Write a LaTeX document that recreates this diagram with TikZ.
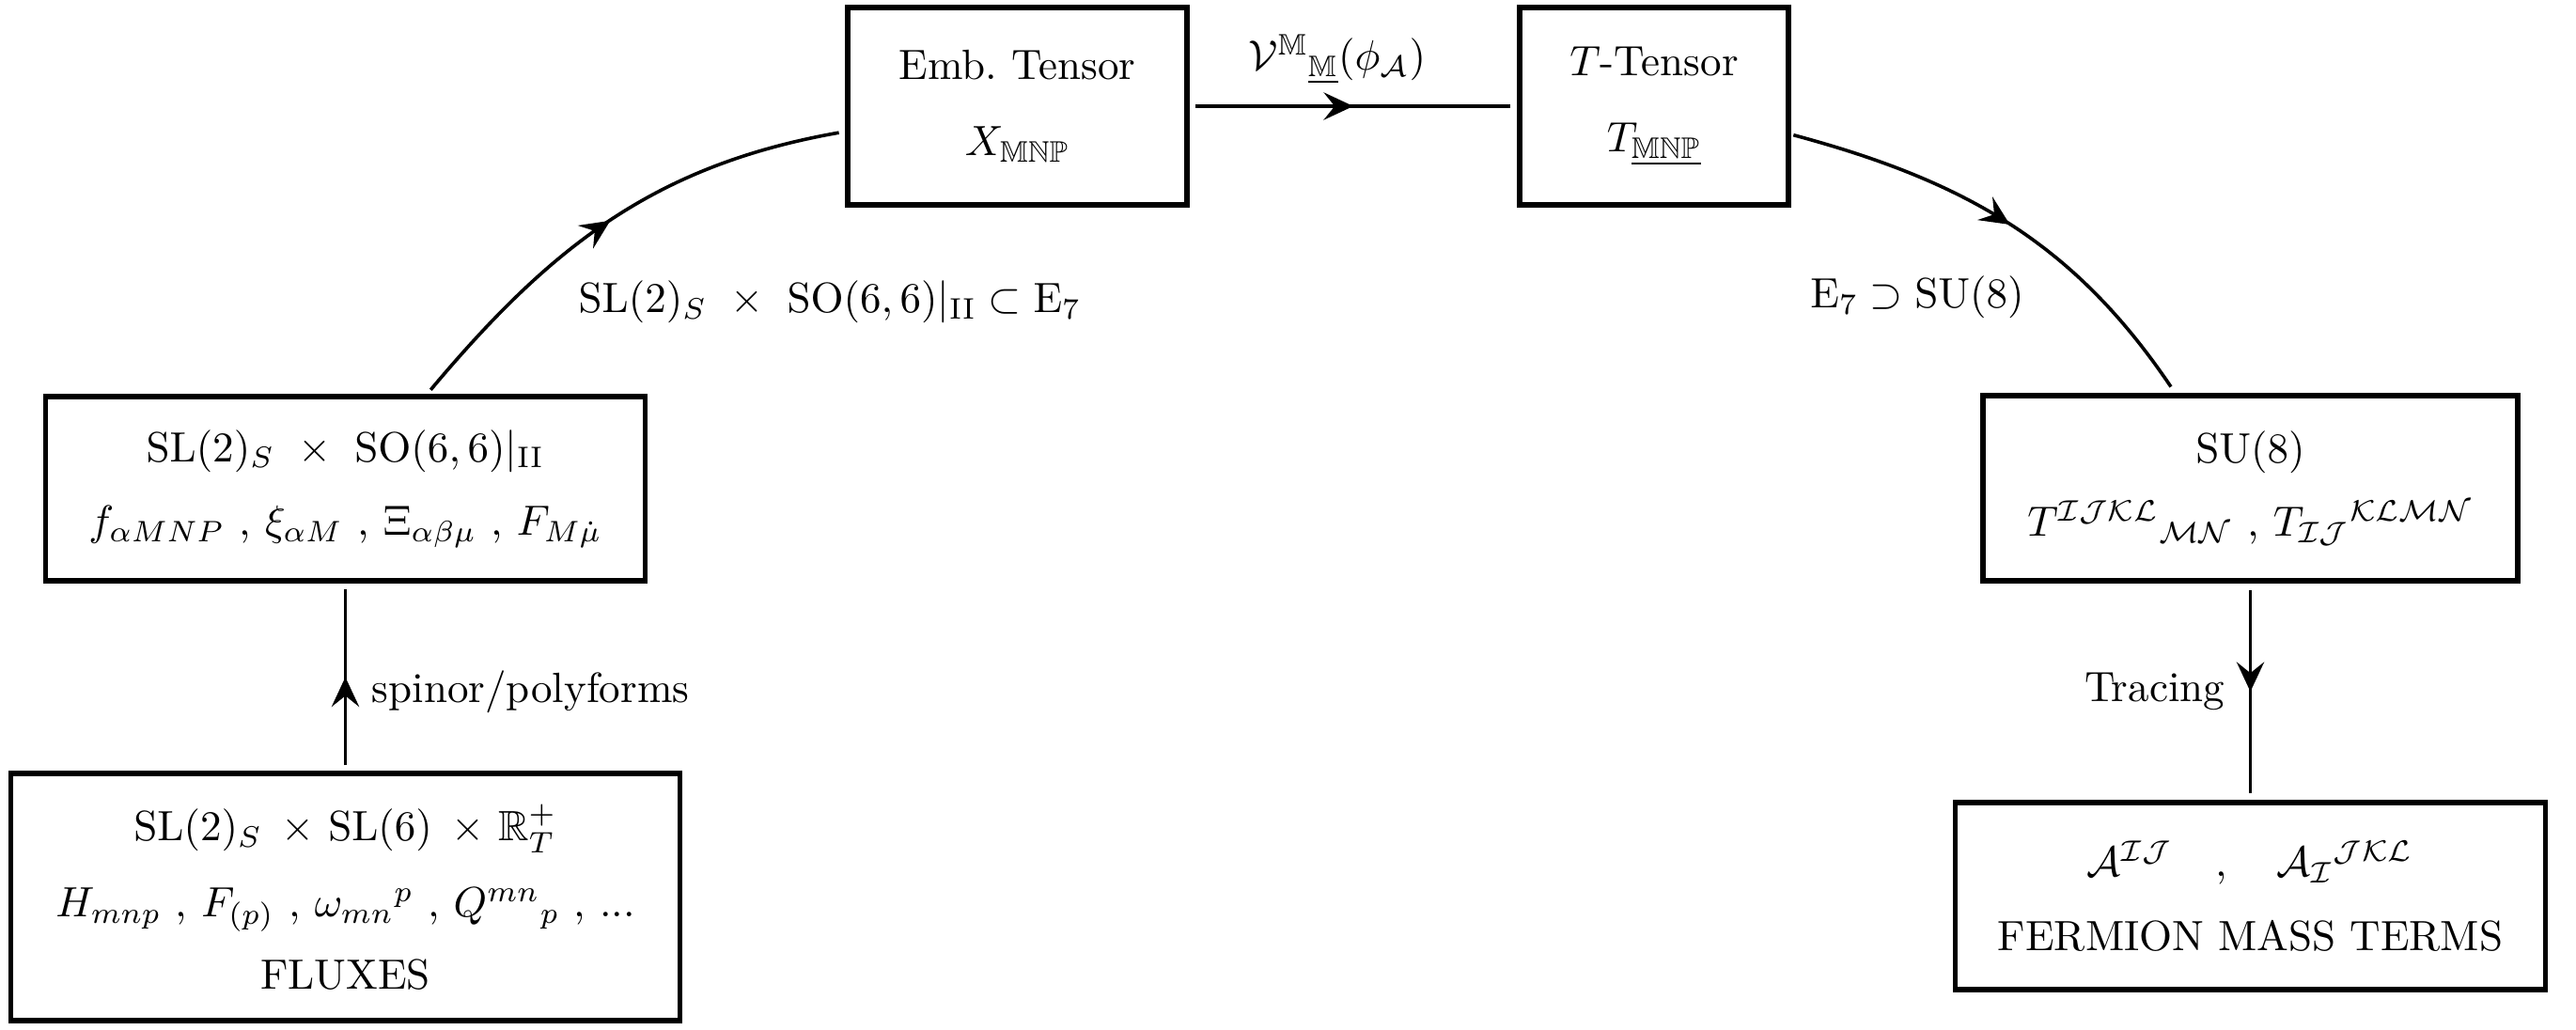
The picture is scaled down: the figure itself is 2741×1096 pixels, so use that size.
\documentclass[tikz,border=0pt]{standalone}
\usepackage{amsmath,amssymb}
\usetikzlibrary{arrows.meta,decorations.markings}
\def\pxu{0.222pt}
\begin{document}
\begin{tikzpicture}[x=0.222pt,y=-0.222pt,
  box/.style={draw,line width=1.2pt,align=center,inner sep=0pt},
  conn/.style={line width=0.8pt,postaction={decorate},
    decoration={markings,mark=at position 0.5 with {\arrow{Stealth[length=7pt,width=6.5pt,inset=2.6pt]}}}},
  lbl/.style={inner sep=0pt}]
\useasboundingbox (0,0) rectangle (2741,1096);
% boxes
\node[box,minimum width={638*\pxu},minimum height={196*\pxu}] (A) at (367.5,520)
  {$\mathrm{SL}(2)_S\ \times\ \mathrm{SO}(6,6)|_{\mathrm{II}}$\\[5.5pt]
   $f_{\alpha MNP}$ , $\xi_{\alpha M}$ , $\Xi_{\alpha\beta\mu}$ , $F_{M\dot\mu}$};
\node[box,minimum width={712*\pxu},minimum height={263*\pxu}] (B) at (367.5,954.5)
  {$\mathrm{SL}(2)_S\mkern8mu{\times}\mkern6mu\mathrm{SL}(6)\mkern8mu{\times}\mkern6mu\mathbb{R}^+_T$\\[6pt]
   $H_{mnp}$ , $F_{(p)}$ , $\omega_{mn}{}^{p}$ , $Q^{mn}{}_{p}$ , ...\\[5pt]
   FLUXES};
\node[box,minimum width={361*\pxu},minimum height={210*\pxu}] (C) at (1082.5,113)
  {Emb.\ Tensor\\[6pt] $X_{\mathbb{MNP}}$};
\node[box,minimum width={286*\pxu},minimum height={210*\pxu}] (D) at (1760,113)
  {$T$-Tensor\\[6pt] $T_{\underline{\mathbb{MNP}}}$};
\node[box,minimum width={569*\pxu},minimum height={197*\pxu}] (E) at (2394.5,519.5)
  {$\mathrm{SU}(8)$\\[5.5pt]
   $T^{\mathcal{IJKL}}{}_{\mathcal{MN}}$ , $T_{\mathcal{IJ}}{}^{\mathcal{KLMN}}$};
\node[box,minimum width={628*\pxu},minimum height={199*\pxu}] (F) at (2394.5,953.5)
  {$\mathcal{A}^{\mathcal{IJ}}\quad,\quad\mathcal{A}_{\mathcal{I}}{}^{\mathcal{JKL}}$\\[5.5pt]
   FERMION MASS TERMS};
% connectors
\draw[conn,shorten <=1.3pt,shorten >=1.3pt] (B.north) -- (A.south);
\draw[conn,shorten <=1.3pt,shorten >=1.5pt] ([xshift={87*\pxu}]A.north) to[out=50,in=190] ([yshift={-27*\pxu}]C.west);
\draw[conn,shorten <=1.3pt,shorten >=1.6pt] (C.east) -- (D.west);
\draw[conn,shorten <=0.6pt,shorten >=1.8pt] ([yshift={-30*\pxu}]D.east) to[out=-15,in=124] ([xshift={-80*\pxu}]E.north);
\draw[conn,shorten <=1.6pt,shorten >=1.6pt] (E.south) -- (E.south |- F.north);
% labels
\node[lbl,anchor=base west] (l1) at (395,748) {spinor/polyforms};
\node[lbl,anchor=base] (l2) at (883,333) {$\mathrm{SL}(2)_S\ \times\ \mathrm{SO}(6,6)|_{\mathrm{II}}\subset\mathrm{E}_7$};
\node[lbl,anchor=base] (l3) at (1423,75) {$\mathcal{V}^{\mathbb{M}}{}_{\underline{\mathbb{M}}}(\phi_{\mathcal{A}})$};
\node[lbl,anchor=base] (l4) at (2040,328) {$\mathrm{E}_7\supset\mathrm{SU}(8)$};
\node[lbl,anchor=base east] (l5) at (2368,747) {Tracing};
\end{tikzpicture}
\end{document}
